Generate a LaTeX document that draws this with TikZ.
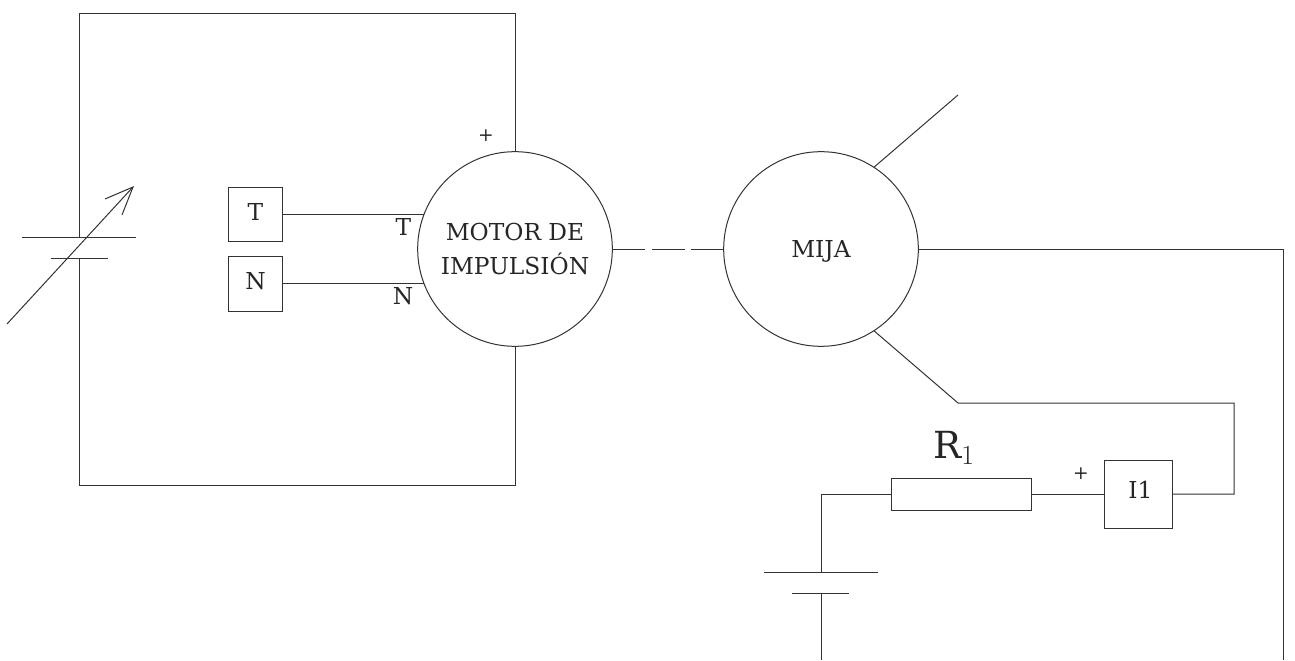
\documentclass[tikz,border=0pt]{standalone}
\usepackage{fontspec}
\setmainfont{DejaVu Serif}
\usetikzlibrary{positioning}

\tikzset{
    wire/.style={line width=0.75pt, draw=black!80},
    machine/.style={circle, wire, minimum size=146pt, inner sep=0pt, align=center, text=black!85, font=\fontsize{17.5}{25}\selectfont},
    meter/.style={rectangle, wire, minimum size=41pt, inner sep=0pt, text depth=3.75pt, text=black!85, font=\fontsize{17.5}{20}\selectfont},
    resistor/.style={rectangle, wire, minimum width=105pt, minimum height=24pt, inner sep=0pt},
    tag/.style={inner sep=0pt, text=black!85, font=\fontsize{17.5}{20}\selectfont},
    plus/.style={inner sep=0pt, text=black!85, font=\fontsize{14}{16}\selectfont}
}

\begin{document}
\begin{tikzpicture}[x=0.75pt, y=-0.75pt]

    \useasboundingbox (0,0) rectangle (1295,660);

    \node[machine] (motor) at (515,249) {MOTOR DE\\IMPULSIÓN};
    \node[machine, text height=16pt] (mija) at (821,249) {MIJA};

    \node[meter] (tbox) at (255.5,214.5) {T};
    \node[meter] (nbox) at (255.5,283.8) {N};
    \node[meter, minimum size=51pt] (ibox) at (1138.5,494) {};
    \node[resistor] (res) at (961,494) {};

    % supply on the left
    \coordinate (plateA) at (79,237);
    \coordinate (plateB) at (79,258);
    \coordinate (plateAl) at (22,237);
    \coordinate (plateAr) at (136,237);
    \coordinate (plateBl) at (51,258);
    \coordinate (plateBr) at (108,258);
    \draw[wire] (plateAl) -- (plateAr);
    \draw[wire] (plateBl) -- (plateBr);
    \draw[wire] (plateA) -- (79,14) -| (motor.north);
    \draw[wire] (plateB) -- (79,485) -| (motor.south);

    % variable arrow
    \coordinate (arrowS) at (7,324);
    \coordinate (arrowE) at (133,187);
    \coordinate (arrowL) at (105,199);
    \coordinate (arrowR) at (122,215);
    \draw[wire] (arrowS) -- (arrowE);
    \draw[wire] (arrowL) -- (arrowE) -- (arrowR);

    \draw[wire] (tbox.east) -- (tbox.east -| motor.159);
    \draw[wire] (nbox.east) -- (nbox.east -| motor.201);

    \draw[wire, dash pattern=on 24.4pt off 5pt] (motor.east) -- (mija.west);

    % brushes of the generator
    \coordinate (brushA) at (958,95);
    \draw[wire] (mija.57) -- (brushA);
    \coordinate (outC) at (1283,660);
    \draw[wire] (mija.east) -| (outC);
    \draw[wire] (mija.303) -- (958,403) -| (1234,494) -- (ibox.east);

    \draw[wire] (ibox.west) -- (res.east);
    \coordinate (plateC) at (821,572);
    \coordinate (plateD) at (821,593);
    \coordinate (plateCl) at (764,572);
    \coordinate (plateCr) at (878,572);
    \coordinate (plateDl) at (792,593);
    \coordinate (plateDr) at (849,593);
    \coordinate (outD) at (821,660);
    \draw[wire] (res.west) -| (plateC);
    \draw[wire] (plateCl) -- (plateCr);
    \draw[wire] (plateDl) -- (plateDr);
    \draw[wire] (plateD) -- (outD);

    \node[tag] (tlabel) at (403.5,227) {T};
    \node[tag] (nlabel) at (403,296.5) {N};
    \node[tag] (ilabel) at (1140.5,489.5) {I1};
    \node[plus] (plusA) at (486,136) {+};
    \node[plus] (plusB) at (1081,474) {+};
    \node[tag, font=\fontsize{28}{30}\selectfont] (rlabel) at (954,448) {R$_1$};

\end{tikzpicture}
\end{document}
